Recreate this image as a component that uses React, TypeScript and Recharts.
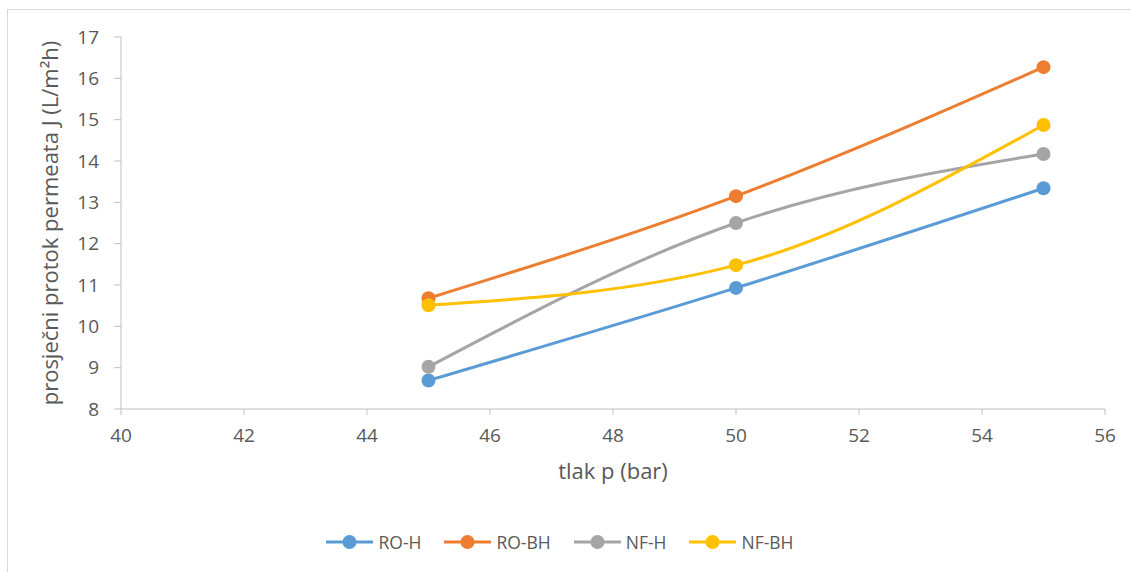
import { LineChart, Line, XAxis, YAxis } from 'recharts'

const pressure = [45, 50, 55]
const roH = [8.69, 10.93, 13.34]
const roBH = [10.68, 13.15, 16.27]
const nfH = [9.02, 12.5, 14.17]
const nfBH = [10.51, 11.48, 14.87]

const xTicks = [40, 42, 44, 46, 48, 50, 52, 54, 56]
const yTicks = [8, 9, 10, 11, 12, 13, 14, 15, 16, 17]

const SERIES = [
    { key: 'roH', name: 'RO-H', color: '#5B9BD5' },
    { key: 'roBH', name: 'RO-BH', color: '#ED7D31' },
    { key: 'nfH', name: 'NF-H', color: '#A5A5A5' },
    { key: 'nfBH', name: 'NF-BH', color: '#FFC000' },
]

const data = pressure.map((p, i) => ({
    p,
    roH: roH[i],
    roBH: roBH[i],
    nfH: nfH[i],
    nfBH: nfBH[i],
}))

const FONT = '"Open Sans", sans-serif'
const TEXT = '#595959'
const AXIS = '#BFBFBF'

export default function App() {
    return (
        <div style={{ position: 'absolute', left: 0, top: 0, width: 1131, height: 572, overflow: 'hidden', background: '#fff', fontFamily: FONT }}>
            {/* chart frame */}
            <div style={{ position: 'absolute', left: 7, top: 9, width: 1200, height: 700, border: '1px solid #D9D9D9' }} />

            <LineChart
                width={1131}
                height={572}
                data={data}
                margin={{ top: 37, right: 26, bottom: 123, left: 0 }}
                style={{ position: 'absolute', left: 0, top: 0 }}
            >
                <XAxis
                    dataKey="p"
                    type="number"
                    domain={[40, 56]}
                    ticks={xTicks}
                    height={40}
                    stroke={AXIS}
                    tickSize={6}
                    tickMargin={14}
                    tick={{ fill: TEXT, fontSize: 19, fontFamily: FONT }}
                    label={{ value: 'tlak p (bar)', position: 'insideBottom', offset: -30, fill: TEXT, fontSize: 22, fontFamily: FONT }}
                />
                <YAxis
                    type="number"
                    domain={[8, 17]}
                    ticks={yTicks}
                    width={121}
                    stroke={AXIS}
                    tickSize={7}
                    tickMargin={15}
                    tick={{ fill: TEXT, fontSize: 19, fontFamily: FONT }}
                    label={{
                        value: 'prosječni protok permeata J (L/m²h)',
                        angle: -90,
                        position: 'insideLeft',
                        offset: 50,
                        fill: TEXT,
                        fontSize: 22,
                        fontFamily: FONT,
                        style: { textAnchor: 'middle' },
                    }}
                />
                {SERIES.map(s => (
                    <Line
                        key={s.key}
                        type="monotone"
                        dataKey={s.key}
                        name={s.name}
                        stroke={s.color}
                        strokeWidth={3}
                        dot={{ r: 7, fill: s.color, stroke: 'none' }}
                        activeDot={false}
                        isAnimationActive={false}
                    />
                ))}
            </LineChart>

            {/* legend */}
            <div style={{ position: 'absolute', left: 0, top: 529, width: 1120, display: 'flex', justifyContent: 'center', gap: 23, fontSize: 17.5, color: TEXT, lineHeight: '26px' }}>
                {SERIES.map(s => (
                    <div key={s.key} style={{ display: 'flex', alignItems: 'center' }}>
                        <svg width={47} height={26}>
                            <line x1={0} y1={13} x2={47} y2={13} stroke={s.color} strokeWidth={3} />
                            <circle cx={23.5} cy={13} r={7} fill={s.color} />
                        </svg>
                        <span style={{ marginLeft: 5 }}>{s.name}</span>
                    </div>
                ))}
            </div>
        </div>
    )
}
